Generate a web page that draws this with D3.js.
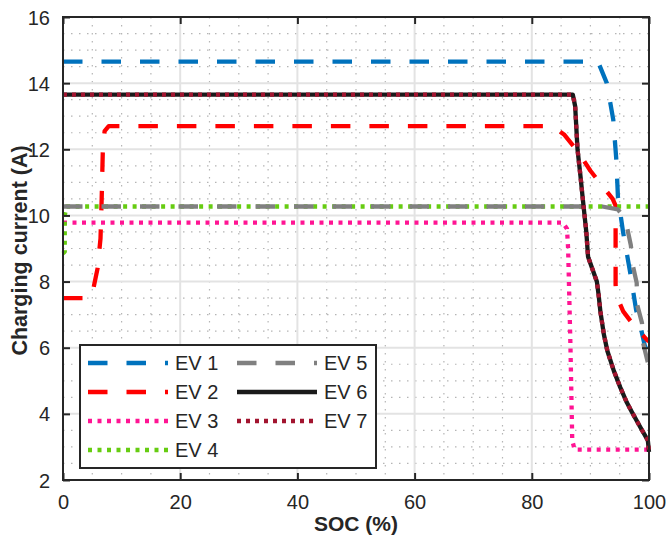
<!DOCTYPE html>
<html>
<head>
<meta charset="utf-8">
<script src="https://cdn.jsdelivr.net/npm/d3@7"></script>
<style>
  body { margin: 0; background: #fff; }
  text { font-family: "Liberation Sans", Arial, Helvetica, sans-serif; fill: #262626; }
</style>
</head>
<body>
<div id="chart"></div>
<script>
// SOC (%) vs charging current (A) for each EV
const ev1 = [[0,14.65],[91.3,14.65],[92.8,14.0],[93.9,12.9],[94.4,11.74],[94.7,10.56],[95.6,9.47],[96.8,8.26],[97.8,7.14],[98.6,6.6],[99.3,6.05],[100,5.8]];
const ev2 = [[0,7.5],[4.5,7.5],[5.2,7.8],[5.9,8.4],[6.4,9.3],[6.6,10.5],[6.8,12.0],[7.1,12.55],[7.8,12.7],[83.5,12.7],[85.5,12.45],[88,11.9],[90,11.35],[92,10.9],[93.8,10.5],[94.3,10.3],[94.3,7.9],[94.5,7.55],[95.6,7.1],[97.6,6.63],[99.7,6.23],[100,6.2]];
const ev3 = [[0,9.78],[85.3,9.78],[86.0,9.6],[86.2,9.0],[86.6,6.0],[86.9,3.2],[87.3,2.92],[100,2.92]];
const ev4 = [[0,8.85],[0.3,8.9],[0.3,10.0],[0.6,10.27],[100,10.27]];
const ev5 = [[0,10.27],[92,10.27],[94.7,10.18],[95.5,10.0],[96.1,9.77],[96.9,9.1],[97.3,8.44],[97.9,7.96],[98.0,7.29],[98.8,6.75],[99.0,6.14],[99.7,5.63],[100,5.4]];
const ev6 = [[0,13.65],[87,13.65],[87.4,13.3],[87.8,12.0],[88.3,11.2],[88.7,10.5],[89.3,9.5],[89.6,8.75],[90.4,8.35],[91.1,8.0],[91.4,7.6],[91.7,7.1],[92.3,6.4],[92.9,5.9],[94.0,5.3],[95.1,4.8],[96.2,4.35],[97.1,4.05],[98.5,3.6],[99.8,3.2],[100,2.85]];
const ev7 = [[0,13.65],[87,13.65],[87.4,13.3],[87.8,12.0],[88.3,11.2],[88.7,10.5],[89.3,9.5],[89.6,8.75],[90.4,8.35],[91.1,8.0],[91.4,7.6],[91.7,7.1],[92.3,6.4],[92.9,5.9],[94.0,5.3],[95.1,4.8],[96.2,4.35],[97.1,4.05],[98.5,3.6],[99.8,3.2],[100,2.85]];

const seriesNames = ["EV 1", "EV 2", "EV 3", "EV 4", "EV 5", "EV 6", "EV 7"];
const xTicks = [0, 20, 40, 60, 80, 100];
const yTicks = [2, 4, 6, 8, 10, 12, 14, 16];

const series = [
    { name: seriesNames[0], data: ev1, color: "#0072BD", dash: "19.5,19" },
    { name: seriesNames[1], data: ev2, color: "#FF0000", dash: "19.5,19" },
    { name: seriesNames[2], data: ev3, color: "#FF1493", dash: "4,5.5" },
    { name: seriesNames[3], data: ev4, color: "#66CC11", dash: "4,5.5" },
    { name: seriesNames[4], data: ev5, color: "#808080", dash: "19.5,19" },
    { name: seriesNames[5], data: ev6, color: "#1a1a1a", dash: null },
    { name: seriesNames[6], data: ev7, color: "#A2142F", dash: "4,5" }
];

const W = 666, H = 536;
const m = { left: 63, top: 17, right: 17, bottom: 56 };
const pw = W - m.left - m.right, ph = H - m.top - m.bottom;

const svg = d3.select("#chart").append("svg")
    .attr("width", W)
    .attr("height", H);

const x = d3.scaleLinear().domain([0, 100]).range([0, pw]);
const y = d3.scaleLinear().domain([2, 16]).range([ph, 0]);

const g = svg.append("g").attr("transform", `translate(${m.left},${m.top})`);

// minor grid
g.append("g")
    .selectAll("line")
    .data(d3.range(5, 100, 5).filter(v => v % 20 !== 0))
    .join("line")
    .attr("x1", d => x(d)).attr("x2", d => x(d))
    .attr("y1", 0).attr("y2", ph)
    .attr("stroke", "#b5b5b5").attr("stroke-width", 1.2)
    .attr("stroke-dasharray", "1.5,6.5");
g.append("g")
    .selectAll("line")
    .data(d3.range(2.5, 16, 0.5).filter(v => v % 2 !== 0))
    .join("line")
    .attr("y1", d => y(d)).attr("y2", d => y(d))
    .attr("x1", 0).attr("x2", pw)
    .attr("stroke", "#b5b5b5").attr("stroke-width", 1.2)
    .attr("stroke-dasharray", "1.5,6.5");

// major grid
g.append("g")
    .selectAll("line")
    .data(xTicks.slice(1, -1))
    .join("line")
    .attr("x1", d => x(d)).attr("x2", d => x(d))
    .attr("y1", 0).attr("y2", ph)
    .attr("stroke", "#e3e3e3").attr("stroke-width", 2);
g.append("g")
    .selectAll("line")
    .data(yTicks.slice(1, -1))
    .join("line")
    .attr("y1", d => y(d)).attr("y2", d => y(d))
    .attr("x1", 0).attr("x2", pw)
    .attr("stroke", "#e3e3e3").attr("stroke-width", 2);

// lines
const line = d3.line().x(d => x(d[0])).y(d => y(d[1]));
series.forEach(s => {
    g.append("path")
        .datum(s.data)
        .attr("d", line)
        .attr("fill", "none")
        .attr("stroke", s.color)
        .attr("stroke-width", 4.3)
        .attr("stroke-linejoin", "round")
        .attr("stroke-dasharray", s.dash);
});

// axes, ticks inward on all sides
const xAxis = g.append("g")
    .attr("transform", `translate(0,${ph})`)
    .call(d3.axisBottom(x).tickValues(xTicks).tickSize(-7).tickPadding(15));
const yAxis = g.append("g")
    .call(d3.axisLeft(y).tickValues(yTicks).tickSize(-7).tickPadding(13));
g.append("g")
    .call(d3.axisTop(x).tickValues(xTicks).tickSize(-7).tickFormat(""));
g.append("g")
    .attr("transform", `translate(${pw},0)`)
    .call(d3.axisRight(y).tickValues(yTicks).tickSize(-7).tickFormat(""));

g.selectAll(".domain").remove();
g.selectAll(".tick line").attr("stroke", "#262626").attr("stroke-width", 2);
g.selectAll(".tick text")
    .style("font-size", "20px")
    .attr("fill", "#262626");
yAxis.selectAll(".tick text").attr("dy", "0.35em");

g.append("rect")
    .attr("width", pw).attr("height", ph)
    .attr("fill", "none")
    .attr("stroke", "#262626").attr("stroke-width", 2);

// axis labels
svg.append("text")
    .attr("x", m.left + pw / 2)
    .attr("y", 531)
    .attr("text-anchor", "middle")
    .style("font-size", "21px")
    .style("font-weight", "bold")
    .attr("fill", "#000")
    .text("SOC (%)");

svg.append("text")
    .attr("transform", `translate(27,${m.top + ph / 2 + 2}) rotate(-90)`)
    .attr("text-anchor", "middle")
    .style("font-size", "21.5px")
    .style("font-weight", "bold")
    .attr("fill", "#000")
    .text("Charging current (A)");

// legend
const legend = svg.append("g").attr("transform", "translate(80,345)");
legend.append("rect")
    .attr("width", 296).attr("height", 123)
    .attr("fill", "#fff")
    .attr("stroke", "#262626").attr("stroke-width", 2);

series.forEach((s, i) => {
    const col = i < 4 ? 0 : 1;
    const row = i < 4 ? i : i - 4;
    const item = legend.append("g")
        .attr("transform", `translate(${8 + col * 149},${18 + row * 29})`);
    item.append("line")
        .attr("x1", 0).attr("x2", 80)
        .attr("stroke", s.color)
        .attr("stroke-width", 4.3)
        .attr("stroke-dasharray", s.dash);
    item.append("text")
        .attr("x", 87)
        .attr("dy", "0.36em")
        .style("font-size", "20px")
        .attr("fill", "#000")
        .text(s.name);
});
</script>
</body>
</html>
